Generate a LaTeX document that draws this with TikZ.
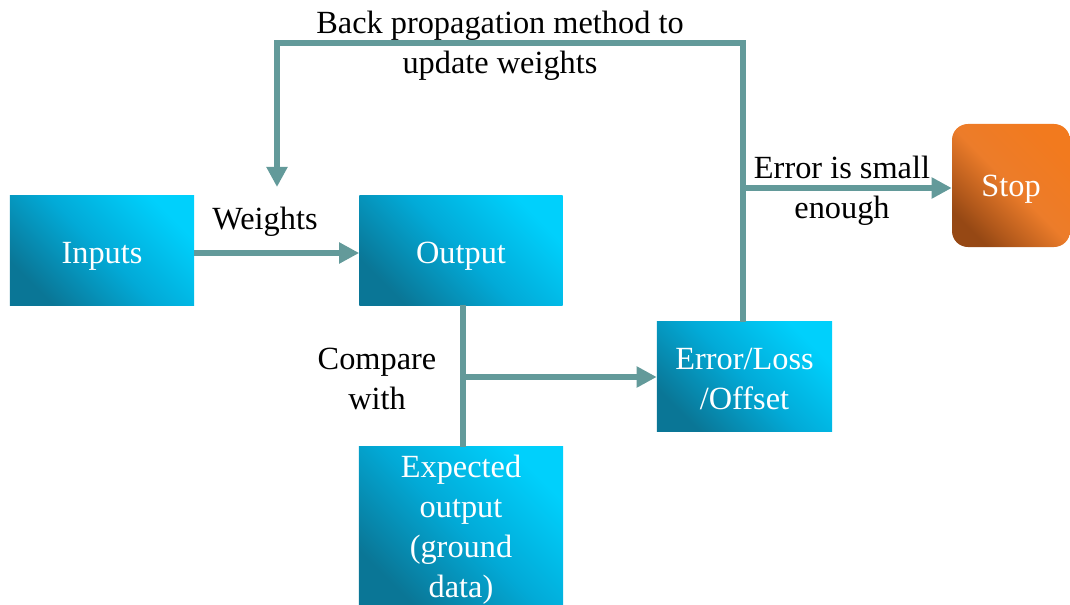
\documentclass[tikz,border=0pt]{standalone}
\usepackage{fontspec}
\setmainfont{Liberation Serif}
\usetikzlibrary{arrows.meta}
\definecolor{conncol}{RGB}{99,154,154}
\definecolor{boxdark}{RGB}{10,118,150}
\definecolor{boxmid}{RGB}{2,170,215}
\definecolor{boxlight}{RGB}{0,208,252}
\definecolor{stopdark}{RGB}{150,72,20}
\definecolor{stopmid}{RGB}{236,124,42}
\definecolor{stoplight}{RGB}{242,122,30}
\begin{document}
\begin{tikzpicture}[x=0.025cm,y=-0.025cm,
  boxtext/.style={text=white, align=center, inner sep=0pt, font=\fontsize{23}{28.5}\selectfont},
  bluebox/.style={rectangle, top color=boxlight, bottom color=boxdark, middle color=boxmid, shading angle=-45,
    inner sep=0pt},
  stopbox/.style={rectangle, rounded corners=0.4cm, top color=stoplight, bottom color=stopdark, middle color=stopmid, shading angle=-45,
    inner sep=0pt},
  lbl/.style={text=black, align=center, inner sep=0pt, font=\fontsize{23}{28.5}\selectfont},
  wire/.style={draw=conncol, line width=0.15cm, line join=miter},
  conn/.style={wire, -{Triangle[length=0.5cm,width=0.5cm]}}
]
\useasboundingbox (0,0) rectangle (1070,604);

\node[bluebox, minimum width=4.6cm, minimum height=2.725cm,
  label={[boxtext, yshift=-0.15cm]center:Inputs}] (in) at (102,250.5) {};
\node[bluebox, minimum width=5.075cm, minimum height=2.725cm,
  label={[boxtext, yshift=-0.15cm]center:Output}] (out) at (461,250.5) {};
\node[bluebox, minimum width=5.1cm, minimum height=3.925cm,
  label={[boxtext, yshift=-0.11cm]center:Expected\\output\\(ground\\data)}] (exp) at (461,525.5) {};
\node[bluebox, minimum width=4.375cm, minimum height=2.725cm,
  label={[boxtext, yshift=-0.06cm]center:Error/Loss\\/Offset}] (err) at (744.5,376.5) {};
\node[stopbox, minimum width=2.95cm, minimum height=3.075cm,
  label={[boxtext, yshift=-0.1cm]center:Stop}] (stop) at (1011,185.5) {};

\node[lbl] (wlbl) at (265,222) {Weights};
\node[lbl] (clbl) at (377,379) {Compare\\with};
\node[lbl] (blbl) at (500,46) {Back propagation method to\\update weights};
\node[lbl] (elbl) at (842,191) {Error is small\\enough};

\coordinate (j1) at (463,377);
\coordinate (j2) at (743,188);
\coordinate (bt) at (743,43);
\coordinate (bl) at (277,43);
\coordinate (wt) at (277,187);

\draw[conn] (in.east |- 0,253) -- (out.west |- 0,253);
\draw[wire] (out.south -| j1) -- (exp.north -| j1);
\draw[conn] (j1) -- (err.west |- j1);
\draw[conn] (err.north -| bt) -- (bt) -- (bl) -- (wt);
\draw[conn] (j2) -- (stop.west |- j2);
\end{tikzpicture}
\end{document}
